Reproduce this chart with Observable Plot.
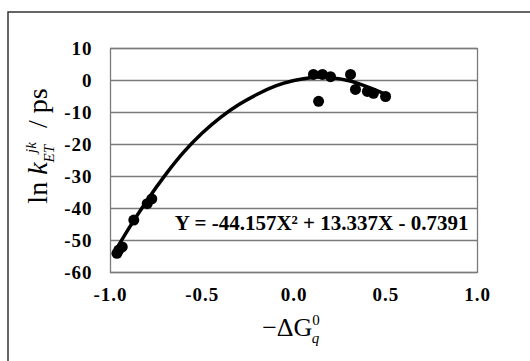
<!DOCTYPE html>
<html>
<head>
<meta charset="utf-8">
<script src="https://cdn.jsdelivr.net/npm/d3@7"></script>
<script src="https://cdn.jsdelivr.net/npm/@observablehq/plot@0.6"></script>
<style>
  html, body { margin: 0; padding: 0; background: #fff; }
  #chart { width: 530px; height: 361px; overflow: hidden; }
  #chart svg, #chart svg text { font-family: 'Liberation Serif', 'Times New Roman', serif !important; }
  #chart g[aria-label="x-axis tick label"] text,
  #chart g[aria-label="y-axis tick label"] text { font-weight: bold; letter-spacing: 1px; }
</style>
</head>
<body>
<div id="chart"></div>
<script>
// Observed points
const dgX = [-0.965, -0.955, -0.936, -0.873, -0.80, -0.775, 0.106, 0.134, 0.155, 0.199, 0.308, 0.335, 0.40, 0.433, 0.499];
const lnK = [-54, -53, -52, -43.6, -38.5, -37, 1.9, -6.5, 1.9, 1.2, 1.9, -2.8, -3.4, -4.0, -5.0];

// Trendline
const fitX = [-0.97, -0.9, -0.8, -0.7, -0.6, -0.5, -0.4, -0.3, -0.2, -0.1, 0.0, 0.1, 0.15, 0.2, 0.3, 0.4, 0.5];
const fitY = [-52.9, -46.2, -37.4, -29.4, -22.3, -16.4, -11.5, -7.5, -4.3, -1.7, 0, 0.95, 1.05, 0.9, -0.1, -2.0, -4.3];

const xTicks = [-1.0, -0.5, 0.0, 0.5, 1.0];
const yTicks = [10, 0, -10, -20, -30, -40, -50, -60];
const equation = "Y = -44.157X² + 13.337X - 0.7391";

const points = dgX.map((x, i) => ({x, y: lnK[i]}));
const fit = fitX.map((x, i) => ({x, y: fitY[i]}));

const serif = "'Liberation Serif', 'Times New Roman', serif";

const chart = Plot.plot({
  width: 530,
  height: 361,
  marginLeft: 110,
  marginRight: 53,
  marginTop: 48,
  marginBottom: 89,
  style: {fontFamily: serif, fontSize: "19px", background: "#fff", color: "#000"},
  x: {domain: [-1, 1]},
  y: {domain: [-60, 10]},
  marks: [
    Plot.gridY(yTicks, {stroke: "#7a7a7a", strokeOpacity: 1, strokeWidth: 1.3}),
    Plot.frame({stroke: "#7a7a7a", strokeWidth: 1.3}),
    Plot.axisX(xTicks, {tickSize: 0, tickPadding: 15, tickFormat: d => d.toFixed(1), label: null, fontWeight: "bold"}),
    Plot.axisY(yTicks, {tickSize: 0, tickPadding: 18, tickFormat: d => String(d), label: null, fontWeight: "bold"}),
    Plot.line(fit, {x: "x", y: "y", stroke: "#000", strokeWidth: 3.5, curve: "natural"}),
    Plot.dot(points, {x: "x", y: "y", r: 5.5, fill: "#000", stroke: "none"}),
    Plot.text([equation], {frameAnchor: "bottom-right", textAnchor: "end", lineAnchor: "middle", dx: -9, dy: -49, fontSize: 21, fontWeight: "bold", fill: "#000", style: "letter-spacing:2.1px"})
  ]
});

document.getElementById("chart").appendChild(chart);
const svg = d3.select(chart);

// outer border (top and left edges visible)
svg.append("path")
  .attr("d", "M8,361 L8,12 L530,12")
  .attr("fill", "none")
  .attr("stroke", "#333")
  .attr("stroke-width", 1.5);

// y-axis label
const yl = svg.append("text")
  .attr("transform", "translate(47,146) rotate(-90)")
  .attr("text-anchor", "middle")
  .style("font-size", "28px")
  .style("font-weight", "normal")
  .attr("fill", "#000");
yl.append("tspan").text("ln ");
yl.append("tspan").style("font-style", "italic").text("k");
yl.append("tspan").style("font-style", "italic").style("font-size", "15px").attr("dy", 7).text("ET");
yl.append("tspan").style("font-style", "italic").style("font-size", "15px").attr("dx", -8).attr("dy", -18).text("jk");
yl.append("tspan").attr("dy", 11).text("  / ps");

// x-axis label
const xl = svg.append("text")
  .attr("x", 291)
  .attr("y", 336)
  .attr("text-anchor", "middle")
  .style("font-size", "26px")
  .style("font-weight", "normal")
  .attr("fill", "#000");
xl.append("tspan").text("−ΔG");
xl.append("tspan").style("font-size", "15px").attr("dy", -11).text("0");
xl.append("tspan").style("font-size", "15px").style("font-style", "italic").attr("dx", -8).attr("dy", 18).text("q");
</script>
</body>
</html>
